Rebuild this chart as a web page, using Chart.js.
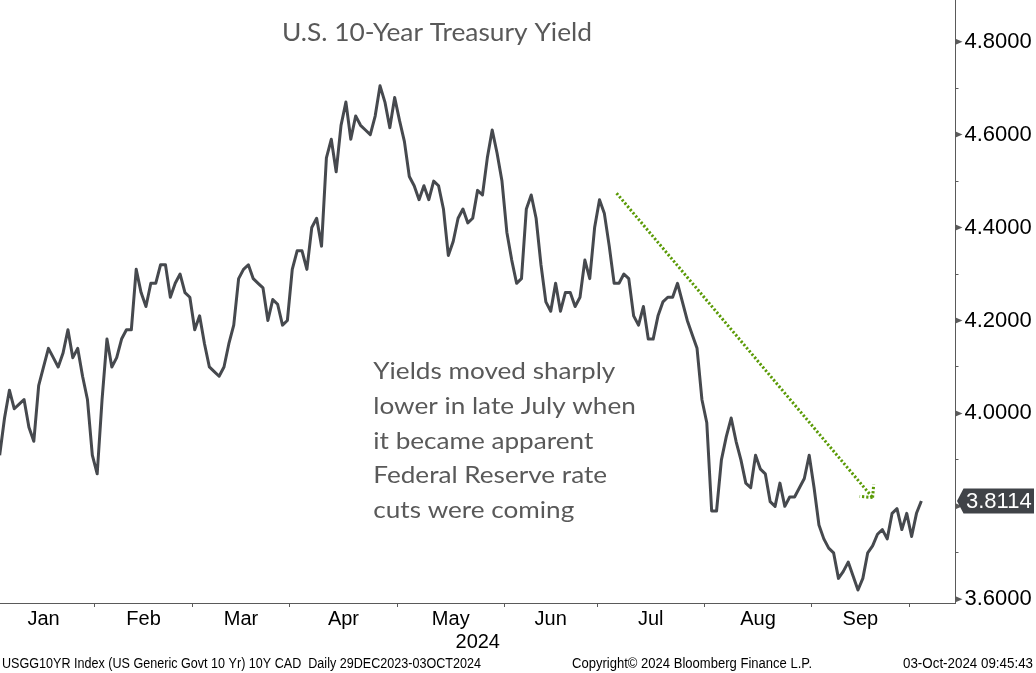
<!DOCTYPE html>
<html><head><meta charset="utf-8">
<script src="https://cdn.jsdelivr.net/npm/chart.js@4.4.1/dist/chart.umd.min.js"></script>
<style>html,body{margin:0;padding:0;background:#fff;}#wrap{width:1036px;height:673px;position:relative;}</style>
</head><body><div id="wrap"><canvas id="c"></canvas></div>
<script>
// ---- data ----
const startDate = '2023-12-29';
const endDate = '2024-10-03';
const holidays = ['2024-01-01','2024-01-15','2024-02-19','2024-03-29','2024-05-27','2024-06-19','2024-07-04','2024-09-02'];
const months = ['Jan','Feb','Mar','Apr','May','Jun','Jul','Aug','Sep'];
const yearLabel = '2024';
const yields = [
 3.88,3.94,3.91,3.99,4.05,4.01,4.02,4.03,3.97,3.94,
 4.06,4.10,4.14,4.12,4.10,4.13,4.18,4.12,4.14,4.08,
 4.03,3.91,3.87,4.03,4.16,4.10,4.12,4.16,4.18,4.18,
 4.31,4.26,4.23,4.28,4.28,4.32,4.32,4.25,4.28,4.30,
 4.26,4.25,4.18,4.21,4.15,4.10,4.09,4.08,4.10,4.15,
 4.19,4.29,4.31,4.32,4.29,4.28,4.27,4.20,4.245,4.235,
 4.19,4.20,4.31,4.35,4.35,4.31,4.40,4.42,4.36,4.55,
 4.59,4.52,4.62,4.67,4.59,4.64,4.62,4.61,4.60,4.64,
 4.705,4.67,4.615,4.68,4.63,4.585,4.51,4.49,4.46,4.49,
 4.46,4.50,4.49,4.44,4.34,4.37,4.42,4.44,4.41,4.42,
 4.48,4.47,4.55,4.61,4.56,4.50,4.39,4.33,4.28,4.29,
 4.44,4.47,4.42,4.32,4.24,4.22,4.28,4.22,4.26,4.26,
 4.23,4.25,4.33,4.29,4.40,4.46,4.43,4.36,4.28,4.28,
 4.30,4.29,4.21,4.19,4.23,4.16,4.16,4.21,4.24,4.25,
 4.25,4.28,4.24,4.20,4.17,4.14,4.03,3.98,3.79,3.79,
 3.90,3.95,3.99,3.94,3.90,3.85,3.84,3.91,3.88,3.87,
 3.81,3.80,3.85,3.80,3.82,3.82,3.84,3.86,3.91,3.84,
 3.76,3.73,3.71,3.70,3.645,3.66,3.68,3.65,3.62,3.645,
 3.70,3.715,3.74,3.75,3.73,3.785,3.795,3.75,3.785,3.735,
 3.785,3.8114
];
const yTicks = [3.6,3.7,3.8,3.9,4.0,4.1,4.2,4.3,4.4,4.5,4.6,4.7,4.8];
const titleText = 'U.S. 10-Year Treasury Yield';
const noteLines = ['Yields moved sharply','lower in late July when','it became apparent','Federal Reserve rate','cuts were coming'];
const footerLeft = 'USGG10YR Index (US Generic Govt 10 Yr) 10Y CAD  Daily 29DEC2023-03OCT2024';
const footerMid = 'Copyright\u00A9 2024 Bloomberg Finance L.P.';
const footerRight = '03-Oct-2024 09:45:43';
// arrow annotation in data space (trading-day index, yield)
const arrowStart = [128.5, 4.474];
const arrowEnd = [181.0, 3.819];

// ---- derived ----
function buildDates(){
  const out=[]; let d=new Date(startDate+'T00:00:00Z'); const e=new Date(endDate+'T00:00:00Z');
  while(d<=e){const iso=d.toISOString().slice(0,10);const wd=d.getUTCDay();
    if(wd!==0&&wd!==6&&!holidays.includes(iso)) out.push(iso);
    d=new Date(d.getTime()+86400000);}
  return out;
}
const dates = buildDates();
const bounds = [];
for(let i=1;i<dates.length;i++){ if(dates[i].slice(5,7)!==dates[i-1].slice(5,7)) bounds.push(i-0.5); }
const centers = months.map((m,k)=>(bounds[k]+bounds[k+1])/2);
const points = yields.map((v,i)=>({x:i,y:v}));

const AXIS = '#5a5a5a';
function noPad(s){ s.paddingTop=0; s.paddingBottom=0; s.paddingLeft=0; s.paddingRight=0; }
function drawFit(ctx,text,x,y,font,scaleX,align){
  ctx.save(); ctx.font=font; ctx.translate(x,y); ctx.scale(scaleX,1); ctx.textAlign=align; ctx.textBaseline='alphabetic'; ctx.fillText(text,0,0); ctx.restore();
}
function fitScale(ctx,text,font,targetW){ ctx.save(); ctx.font=font; const w=ctx.measureText(text).width; ctx.restore(); return targetW/w; }

const overlay = {
  id:'overlay',
  afterDraw(chart){
    const ctx=chart.ctx, ys=chart.scales.y, xs=chart.scales.x, ca=chart.chartArea;
    // major tick triangles
    ctx.save(); ctx.fillStyle=AXIS;
    yTicks.forEach(v=>{ if(Math.round(v*10)%2===0){ const y=ys.getPixelForValue(v);
      ctx.beginPath(); ctx.moveTo(ca.right,y-3); ctx.lineTo(ca.right+7,y); ctx.lineTo(ca.right,y+3); ctx.closePath(); ctx.fill(); }});
    ctx.restore();
    // arrow
    const x1=xs.getPixelForValue(arrowStart[0]), y1=ys.getPixelForValue(arrowStart[1]);
    const x2=xs.getPixelForValue(arrowEnd[0]), y2=ys.getPixelForValue(arrowEnd[1]);
    ctx.save(); ctx.strokeStyle='#5a9a06'; ctx.lineWidth=3; ctx.setLineDash([2.2,2]); ctx.lineCap='butt';
    ctx.beginPath(); ctx.moveTo(x1,y1); ctx.lineTo(x2,y2); ctx.stroke();
    const ang=Math.atan2(y1-y2,x1-x2);
    [Math.PI/4,-Math.PI/4].forEach(da=>{ ctx.beginPath(); ctx.moveTo(x2,y2); ctx.lineTo(x2+13*Math.cos(ang+da), y2+13*Math.sin(ang+da)); ctx.stroke(); });
    ctx.restore();
    // last value box
    const last=yields[yields.length-1]; const ly=ys.getPixelForValue(last);
    ctx.save(); ctx.fillStyle='#404348';
    ctx.beginPath(); ctx.moveTo(ca.right+1.5,ly); ctx.lineTo(ca.right+8,ly-12.5); ctx.lineTo(1034,ly-12.5); ctx.lineTo(1034,ly+12.5); ctx.lineTo(ca.right+8,ly+12.5); ctx.closePath(); ctx.fill();
    ctx.fillStyle='#ffffff'; ctx.font='22px "Liberation Sans"'; ctx.textBaseline='middle'; ctx.textAlign='left';
    ctx.fillText(last.toFixed(4), ca.right+10.5, ly+1);
    ctx.restore();
    // title & note
    ctx.save(); ctx.fillStyle='#595959';
    const tf='25px Lato';
    drawFit(ctx,titleText,437,40.7,tf,fitScale(ctx,titleText,tf,310),'center');
    const nf='23px Lato'; const ns=fitScale(ctx,noteLines[0],nf,242);
    noteLines.forEach((t,i)=>drawFit(ctx,t,373.3,379.3+i*34.7,nf,ns,'left'));
    ctx.restore();
    // footer
    ctx.save(); ctx.fillStyle='#000';
    const ff='14px "Liberation Sans"';
    drawFit(ctx,footerLeft,2,668,ff,fitScale(ctx,footerLeft,ff,479),'left');
    drawFit(ctx,footerMid,572,668,ff,fitScale(ctx,footerMid,ff,240),'left');
    drawFit(ctx,footerRight,1033,668,ff,fitScale(ctx,footerRight,ff,130),'right');
    ctx.restore();
  }
};

new Chart(document.getElementById('c'),{
  type:'line',
  data:{datasets:[{data:points,borderColor:'#46494e',borderWidth:3,pointRadius:0,tension:0,fill:false,borderJoinStyle:'round'}]},
  options:{
    responsive:true, maintainAspectRatio:false, animation:false,
    layout:{padding:{left:0,right:0,top:0,bottom:22}},
    plugins:{legend:{display:false},tooltip:{enabled:false}},
    scales:{
      x:{type:'linear',position:'bottom',min:2.07,max:198,weight:0,
        afterBuildTicks:s=>{s.ticks=bounds.map(v=>({value:v}));},
        grid:{display:true,drawOnChartArea:false,drawTicks:true,tickLength:4,color:AXIS,tickColor:AXIS},
        border:{display:true,color:AXIS,width:1},
        ticks:{display:false},
        afterFit:s=>{s.height=4;noPad(s);}},
      xl:{type:'linear',position:'bottom',min:2.07,max:198,weight:1,
        afterBuildTicks:s=>{s.ticks=centers.map(v=>({value:v}));},
        grid:{display:false,drawTicks:false},border:{display:false},
        ticks:{autoSkip:false,maxRotation:0,padding:0,color:'#000',font:{family:'Liberation Sans',size:20},callback:(v,i)=>months[i]},
        title:{display:true,text:yearLabel,color:'#000',font:{family:'Liberation Sans',size:20},padding:{top:0,bottom:-3}},
        afterFit:s=>{s.height=44;noPad(s);}},
      y:{type:'linear',position:'right',min:3.592,max:4.8897,
        afterBuildTicks:s=>{s.ticks=yTicks.map(v=>({value:v}));},
        grid:{display:true,drawOnChartArea:false,drawTicks:true,tickLength:3,color:AXIS,tickColor:AXIS},
        border:{display:true,color:AXIS,width:1},
        ticks:{autoSkip:false,padding:6,color:'#000',font:{family:'Liberation Sans',size:22},
          callback:(v)=>Math.round(v*10)%2===0?Number(v).toFixed(4):''},
        afterFit:s=>{s.width=80.5;noPad(s);}}
    }
  },
  plugins:[overlay]
});
</script></body></html>
